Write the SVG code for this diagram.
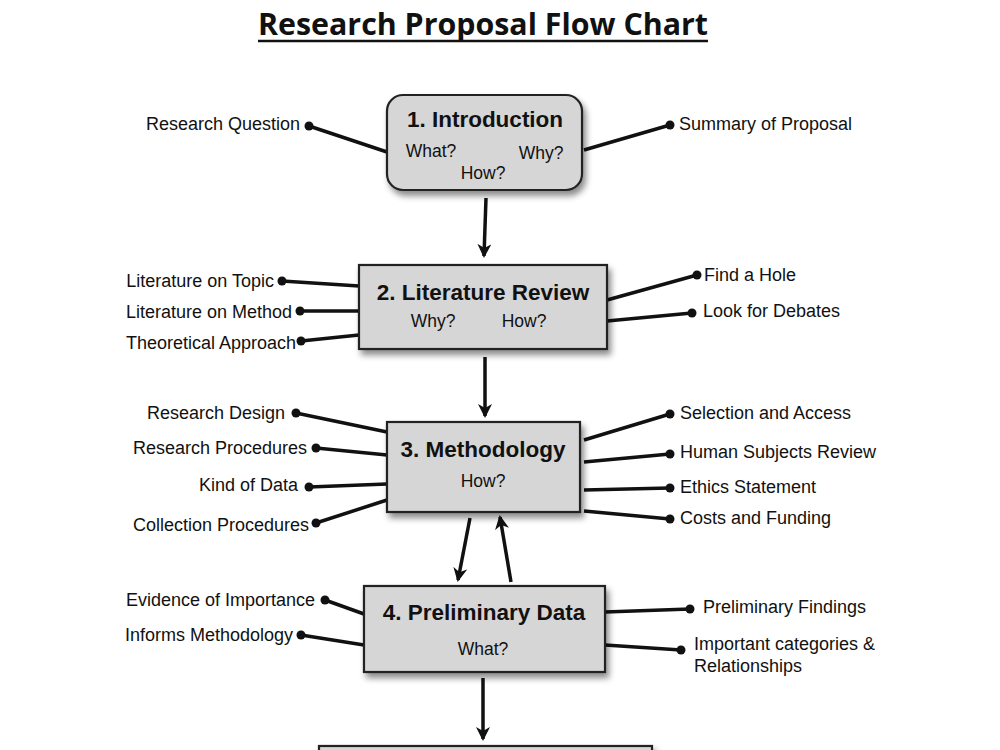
<svg xmlns="http://www.w3.org/2000/svg" width="1000" height="750" viewBox="0 0 1000 750">
<defs>
<filter id="sh" x="-10%" y="-10%" width="130%" height="140%">
<feDropShadow dx="3" dy="5" stdDeviation="3" flood-color="#000" flood-opacity="0.45"/>
</filter>
<marker id="ah" viewBox="0 0 14 14" refX="12" refY="7" markerWidth="14" markerHeight="14" markerUnits="userSpaceOnUse" orient="auto">
<path d="M0,0 L14,7 L0,14 L4,7 Z" fill="#111"/>
</marker>
<style>
.box{fill:#d6d6d6;stroke:#222;stroke-width:2.2;filter:url(#sh)}
.hd{font-family:"Liberation Sans",Arial,sans-serif;font-weight:bold;font-size:22.5px;fill:#111;text-anchor:middle}
.sb{font-family:"Liberation Sans",Arial,sans-serif;font-size:17.5px;fill:#111;text-anchor:middle}
.lb{font-family:"Liberation Sans",Arial,sans-serif;font-size:18px;fill:#111}
.r{text-anchor:end}
.ln{stroke:#111;stroke-width:3.5;fill:none}
.ar{stroke:#111;stroke-width:3.5;fill:none;marker-end:url(#ah)}
.dt{fill:#111}
</style>
</defs>
<rect width="1000" height="750" fill="#fff"/>
<text x="483" y="35" font-family="'Open Sans','Liberation Sans',sans-serif" font-weight="bold" font-size="31" text-anchor="middle" textLength="450" lengthAdjust="spacingAndGlyphs" fill="#111">Research Proposal Flow Chart</text>
<line x1="258" y1="41" x2="708" y2="41" stroke="#111" stroke-width="2.5"/>

<g id="connectors">
<line class="ln" x1="309" y1="126" x2="387" y2="152"/>
<circle class="dt" cx="309" cy="126" r="4.5"/>
<line class="ln" x1="670" y1="125" x2="584" y2="150"/>
<circle class="dt" cx="670" cy="125" r="4.5"/>
<line class="ar" x1="486" y1="198" x2="484" y2="256"/>

<line class="ln" x1="282" y1="281" x2="359" y2="286"/>
<circle class="dt" cx="282" cy="281" r="4.5"/>
<line class="ln" x1="300" y1="311" x2="359" y2="311"/>
<circle class="dt" cx="300" cy="311" r="4.5"/>
<line class="ln" x1="301" y1="341" x2="359" y2="335"/>
<circle class="dt" cx="301" cy="341" r="4.5"/>
<line class="ln" x1="697" y1="275" x2="607" y2="300"/>
<circle class="dt" cx="697" cy="275" r="4.5"/>
<line class="ln" x1="692" y1="313" x2="607" y2="321"/>
<circle class="dt" cx="692" cy="313" r="4.5"/>
<line class="ar" x1="485" y1="357" x2="485" y2="416"/>

<line class="ln" x1="296" y1="413" x2="387" y2="432"/>
<circle class="dt" cx="296" cy="413" r="4.5"/>
<line class="ln" x1="316" y1="448" x2="387" y2="455"/>
<circle class="dt" cx="316" cy="448" r="4.5"/>
<line class="ln" x1="309" y1="487" x2="387" y2="484"/>
<circle class="dt" cx="309" cy="487" r="4.5"/>
<line class="ln" x1="316" y1="523" x2="387" y2="500"/>
<circle class="dt" cx="316" cy="523" r="4.5"/>
<line class="ln" x1="670" y1="414" x2="584" y2="440"/>
<circle class="dt" cx="670" cy="414" r="4.5"/>
<line class="ln" x1="670" y1="454" x2="584" y2="462"/>
<circle class="dt" cx="670" cy="454" r="4.5"/>
<line class="ln" x1="670" y1="488" x2="584" y2="490"/>
<circle class="dt" cx="670" cy="488" r="4.5"/>
<line class="ln" x1="670" y1="519" x2="584" y2="511"/>
<circle class="dt" cx="670" cy="519" r="4.5"/>
<line class="ar" x1="470" y1="518" x2="458" y2="580"/>
<line class="ar" x1="511" y1="582" x2="500" y2="517"/>

<line class="ln" x1="325" y1="600" x2="364" y2="614"/>
<circle class="dt" cx="325" cy="600" r="4.5"/>
<line class="ln" x1="301" y1="635" x2="364" y2="645"/>
<circle class="dt" cx="301" cy="635" r="4.5"/>
<line class="ln" x1="690" y1="609" x2="605" y2="612"/>
<circle class="dt" cx="690" cy="609" r="4.5"/>
<line class="ln" x1="681" y1="650" x2="605" y2="645"/>
<circle class="dt" cx="681" cy="650" r="4.5"/>
<line class="ar" x1="483" y1="678" x2="483" y2="739"/>
</g>

<g id="n1">
<rect class="box" x="387" y="95" width="195" height="95" rx="16"/>
<text class="hd" x="485" y="127">1. Introduction</text>
<text class="sb" x="431" y="157">What?</text>
<text class="sb" x="541" y="159">Why?</text>
<text class="sb" x="483" y="179">How?</text>
</g>
<g id="n1-labels">
<text class="lb r" x="300" y="130">Research Question</text>
<text class="lb" x="679" y="130">Summary of Proposal</text>
</g>

<g id="n2">
<rect class="box" x="359" y="265" width="248" height="84"/>
<text class="hd" x="483" y="300">2. Literature Review</text>
<text class="sb" x="433" y="327">Why?</text>
<text class="sb" x="524" y="327">How?</text>
</g>
<g id="n2-labels">
<text class="lb r" x="274" y="287">Literature on Topic</text>
<text class="lb r" x="292" y="318">Literature on Method</text>
<text class="lb r" x="296" y="349">Theoretical Approach</text>
<text class="lb" x="704" y="281">Find a Hole</text>
<text class="lb" x="703" y="317">Look for Debates</text>
</g>

<g id="n3">
<rect class="box" x="387" y="422" width="193" height="90"/>
<text class="hd" x="483" y="457">3. Methodology</text>
<text class="sb" x="483" y="487">How?</text>
</g>
<g id="n3-labels">
<text class="lb r" x="285" y="419">Research Design</text>
<text class="lb r" x="307" y="454">Research Procedures</text>
<text class="lb r" x="298" y="491">Kind of Data</text>
<text class="lb r" x="309" y="531">Collection Procedures</text>
<text class="lb" x="680" y="419">Selection and Access</text>
<text class="lb" x="680" y="458">Human Subjects Review</text>
<text class="lb" x="680" y="493">Ethics Statement</text>
<text class="lb" x="680" y="524">Costs and Funding</text>
</g>

<g id="n4">
<rect class="box" x="364" y="586" width="241" height="86"/>
<text class="hd" x="484" y="620">4. Preliminary Data</text>
<text class="sb" x="483" y="655">What?</text>
</g>
<g id="n4-labels">
<text class="lb r" x="315" y="606">Evidence of Importance</text>
<text class="lb r" x="293" y="641">Informs Methodology</text>
<text class="lb" x="703" y="613">Preliminary Findings</text>
<text class="lb" x="694" y="650">Important categories &amp;</text>
<text class="lb" x="694" y="672">Relationships</text>
</g>

<g id="n5">
<rect class="box" x="319" y="746" width="333" height="80"/>
</g>
</svg>
